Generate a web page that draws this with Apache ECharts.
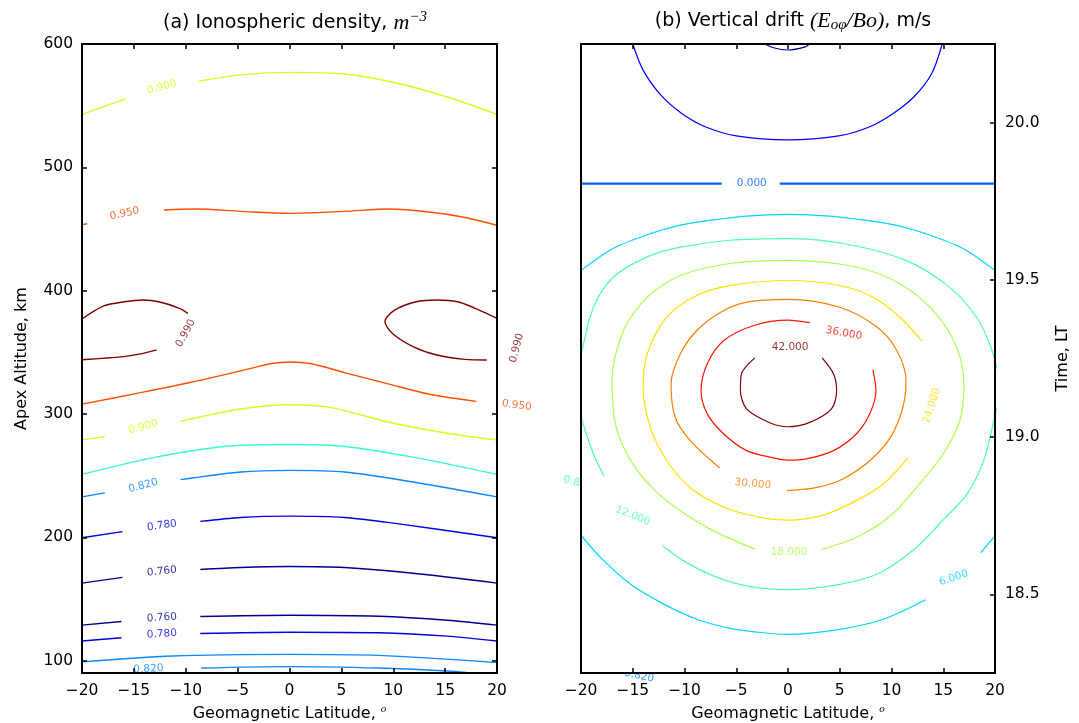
<!DOCTYPE html>
<html>
<head>
<meta charset="utf-8">
<script src="https://cdn.jsdelivr.net/npm/echarts@6/dist/echarts.min.js"></script>
<style>
  html, body { margin: 0; padding: 0; background: #fff; }
  #chart { width: 1079px; height: 723px; }
</style>
</head>
<body>
<div id="chart"></div>
<script>
// ---- axis ticks
const altTicks = [100, 200, 300, 400, 500, 600];
const timeTicks = [18.5, 19.0, 19.5, 20.0];

// ---- (a) density contours, pieces of [latitude, altitude km]
const dens090Top = [
  [[-20, 543], [-15.8, 555.5]],
  [[-8.7, 570], [-4.7, 575], [0, 577], [5.3, 575.7], [10.2, 568.6], [15.2, 557], [20, 543]]
];
const dens095Top = [
  [[-20, 453.5], [-19.5, 454.3]],
  [[-12.1, 465.4], [-9, 466.2], [-4.7, 464.3], [0, 462.7], [5.3, 464.3], [9.6, 466.2], [13.5, 463.8], [16.8, 459.5], [20, 453]]
];
const dens099Left = [
  [[-20, 377], [-17.9, 387.6], [-15.9, 391], [-14.1, 392.4], [-12.6, 391], [-10.6, 385.7], [-9.8, 381.6]],
  [[-20, 344], [-16, 346.5], [-14.5, 348.5], [-12.8, 352]]
];
const dens099Right = [
  [[20, 377.6], [17.9, 385.7], [16.2, 391], [14.2, 392.4], [12.2, 391], [10.1, 384], [9.2, 374.9],
   [9.9, 365.4], [11.9, 354.6], [14.2, 347.8], [16.9, 344.3], [19, 343.8]]
];
const dens095Low = [
  [[-20, 308], [-14.6, 316.9], [-9.6, 325.5], [-4.7, 335], [-1.7, 340.9], [0, 342.2], [2, 340.9],
   [5.3, 333.6], [9.6, 324.2], [13.5, 316], [18, 310.2]]
];
const dens090Low = [
  [[-20, 279], [-17.8, 281.7]],
  [[-10.5, 294], [-4.7, 304], [0, 307.5], [3.9, 305.4], [9.6, 293.3], [15.2, 284.4], [20, 279]]
];
const dens086 = [
  [[-20, 251], [-12.9, 265], [-6.3, 273.7], [0, 275.3], [5.3, 273.7], [11.9, 265], [20, 251]]
];
const dens082Top = [
  [[-20, 232.8], [-17.8, 236]],
  [[-10.5, 246.8], [-4.7, 253], [0, 254.3], [5.3, 253], [11.9, 244.9], [20, 232.8]]
];
const dens078Top = [
  [[-20, 199.7], [-16.1, 204.6]],
  [[-8.6, 212.9], [-4.7, 216.1], [0, 217.2], [5.3, 216.1], [10.2, 211.3], [20, 199.7]]
];
const dens076Top = [
  [[-20, 162.9], [-16.1, 167.5]],
  [[-8.6, 173.9], [-4.7, 175.5], [0, 176.3], [5.3, 175.5], [11.9, 170.9], [20, 162.9]]
];
const dens076Low = [
  [[-20, 128.8], [-16.2, 131.7]],
  [[-8.6, 135.8], [0, 136.8], [8.6, 136], [15.2, 132.8], [20, 128.8]]
];
const dens078Low = [
  [[-20, 115.9], [-16.2, 118.6]],
  [[-8.6, 122], [0, 123.1], [8.6, 122.6], [15.2, 119.9], [20, 115.9]]
];
const dens082Low = [
  [[-20, 99], [-11.3, 103.8], [0, 105.1], [8.6, 104.3], [20, 98.4]]
];
const dens082Bottom = [
  [[-8.5, 94], [0, 95.2], [8.6, 94], [15.2, 91.6], [19, 88.8]]
];

// contour labels (a): [latitude, altitude, text, angle]
const densLabels = [
  [-12.3, 565, '0.900', 15],
  [-15.9, 462.5, '0.950', 12],
  [-10, 365.5, '0.990', 62],
  [21.9, 353.5, '0.990', 75],
  [21.9, 307, '0.950', -8],
  [-14.1, 289.5, '0.900', 15],
  [-14.1, 241.8, '0.820', 15],
  [-12.3, 209.5, '0.780', 8],
  [-12.3, 172.3, '0.760', 6],
  [-12.3, 134.8, '0.760', 4],
  [-12.3, 121.6, '0.780', 4],
  [-13.6, 93.2, '0.820', 3],
  [27.8, 244, '0.860', -15],
  [33.7, 87.6, '0.820', -12]
];

// ---- (b) drift contours, pieces of [latitude, local time h]
const drift_m12 = [
  [[-2.2, 20.25], [-1.4, 20.238], [0, 20.231], [1.6, 20.24], [2.1, 20.25]]
];
const drift_m6 = [
  [[-15, 20.25], [-14, 20.167], [-12.3, 20.088], [-10.3, 20.03], [-8, 19.987], [-5, 19.958], [0, 19.945],
   [4.9, 19.958], [7.9, 19.987], [10.2, 20.03], [12.2, 20.083], [13.9, 20.157], [14.9, 20.25]]
];
const drift_0 = [
  [[-20, 19.806], [-6.4, 19.806]],
  [[-0.8, 19.806], [20, 19.806]]
];
const drift_6 = [
  [[-20, 19.53], [-16.9, 19.6], [-13.3, 19.647], [-10.4, 19.674], [-7.4, 19.69], [-4, 19.703], [0, 19.708],
   [4, 19.703], [7.4, 19.69], [10.4, 19.674], [13.3, 19.647], [16.9, 19.6], [20, 19.53]],
  [[-20, 18.688], [-18.1, 18.617], [-15.2, 18.532], [-12, 18.469], [-8.8, 18.421], [-5.6, 18.392], [-2.4, 18.378],
   [0, 18.373], [5, 18.389], [9.2, 18.421], [13.3, 18.483]],
  [[18.6, 18.632], [20, 18.686]]
];
const drift_12 = [
  [[-20.4, 19.19], [-19.9, 19.275], [-18.8, 19.413], [-16.85, 19.509], [-13.6, 19.573], [-10.4, 19.604], [-5.6, 19.626],
   [0, 19.631], [5.6, 19.614], [11.4, 19.562], [15.6, 19.477], [18.2, 19.382], [19.6, 19.286], [20.4, 19.19]],
  [[20.4, 19.12], [19.9, 19.053], [18.9, 18.925], [17.3, 18.819], [15, 18.737], [12.4, 18.649], [8.9, 18.569],
   [5, 18.532], [0, 18.515], [-4, 18.527], [-7.2, 18.559], [-9.8, 18.601], [-12.1, 18.654]],
  [[-17.8, 18.877], [-18.8, 18.947], [-19.9, 19.053], [-20.4, 19.12]]
];
const drift_18 = [
  [[3.3, 18.644], [6.6, 18.681], [9.9, 18.75], [12.7, 18.851], [15, 18.947], [16.6, 19.053], [17, 19.169],
   [16.3, 19.286], [14, 19.403], [10.8, 19.488], [6.6, 19.541], [0, 19.562], [-5.6, 19.552], [-10.4, 19.514],
   [-13.6, 19.445], [-15.9, 19.339], [-17, 19.18], [-16.6, 19.031], [-15, 18.915], [-12.7, 18.825],
   [-10.4, 18.766], [-7.2, 18.702], [-3.2, 18.644]]
];
const drift_24 = [
  [[11.6, 18.934], [9.2, 18.851], [6.6, 18.798], [3.4, 18.752], [0, 18.736], [-2.7, 18.745], [-6.2, 18.777],
   [-9.45, 18.84], [-11.7, 18.925], [-13.3, 19.031], [-14, 19.159], [-13.6, 19.265], [-11.7, 19.382],
   [-8.8, 19.451], [-5.6, 19.482], [0, 19.498], [5, 19.482], [8.2, 19.445], [10.8, 19.382], [12.9, 19.307]]
];
const drift_30 = [
  [[-0.1, 18.83], [2.8, 18.84], [5.3, 18.867], [7.9, 18.925], [9.9, 18.999], [11.1, 19.095], [11.4, 19.18],
   [10.5, 19.276], [8.6, 19.35], [5, 19.413], [0, 19.438], [-4, 19.429], [-6.5, 19.397], [-8.8, 19.339],
   [-10.4, 19.265], [-11.3, 19.169], [-10.9, 19.063], [-9.45, 18.989], [-6.6, 18.902]]
];
const drift_36 = [
  [[8.2, 19.214], [8.5, 19.148], [7.9, 19.074], [6.6, 19.01], [4.4, 18.957], [1.8, 18.931], [0, 18.927],
   [-1.4, 18.934], [-4, 18.957], [-6.2, 19.01], [-7.8, 19.074], [-8.4, 19.148], [-7.8, 19.233], [-6.2, 19.307],
   [-3.3, 19.355], [0, 19.372], [2.1, 19.364]]
];
const drift_42 = [
  [[3.3, 19.252], [4.4, 19.201], [4.7, 19.148], [4.2, 19.09], [2.1, 19.047], [0, 19.033], [-1.7, 19.045],
   [-4, 19.09], [-4.6, 19.148], [-4.5, 19.201], [-3.2, 19.252]]
];

// contour labels (b): [latitude, time, text, angle]
const driftLabels = [
  [-3.5, 19.806, '0.000', 0],
  [16.0, 18.552, '6.000', 18],
  [-15.0, 18.75, '12.000', -22],
  [0.1, 18.635, '18.000', 0],
  [13.9, 19.1, '24.000', 72],
  [-3.4, 18.851, '30.000', -5],
  [5.4, 19.33, '36.000', -10],
  [0.2, 19.287, '42.000', 0]
];

const FONT = 'DejaVu Sans';
const densColor = {
  '0.760': '#000088', '0.780': '#0000e2', '0.820': '#0a88ff', '0.860': '#33ffcc',
  '0.900': '#d2ff1f', '0.950': '#ff4f00', '0.990': '#800000'
};
const driftColor = {
  '-12': '#000080', '-6': '#0000fe', '0.000': '#0063ff', '6.000': '#00d4ff', '12.000': '#4dffaa',
  '18.000': '#a9ff4d', '24.000': '#ffe000', '30.000': '#ff7d00', '36.000': '#ff1400', '42.000': '#800000'
};

const densSets = [
  [dens090Top, '0.900'], [dens095Top, '0.950'], [dens099Left, '0.990'], [dens099Right, '0.990'],
  [dens095Low, '0.950'], [dens090Low, '0.900'], [dens086, '0.860'], [dens082Top, '0.820'],
  [dens078Top, '0.780'], [dens076Top, '0.760'], [dens076Low, '0.760'], [dens078Low, '0.780'],
  [dens082Low, '0.820'], [dens082Bottom, '0.820']
];
const driftSets = [
  [drift_m12, '-12'], [drift_m6, '-6'], [drift_0, '0.000'], [drift_6, '6.000'], [drift_12, '12.000'],
  [drift_18, '18.000'], [drift_24, '24.000'], [drift_30, '30.000'], [drift_36, '36.000'], [drift_42, '42.000']
];

function lines(pieces, color, width, idx) {
  return pieces.map(p => ({
    type: 'line', xAxisIndex: idx, yAxisIndex: idx, data: p,
    showSymbol: false, smooth: 0.3, silent: true, animation: false, z: 3,
    lineStyle: { color: color, width: width }
  }));
}
function labels(list, colors, idx, z) {
  return list.map(([x, y, txt, rot]) => ({
    type: 'scatter', xAxisIndex: idx, yAxisIndex: idx, data: [[x, y]],
    symbolSize: 1, itemStyle: { color: 'rgba(0,0,0,0)' }, clip: false, silent: true, animation: false, z: z,
    label: { show: true, position: 'inside', formatter: txt, rotate: rot, color: colors[txt], fontSize: 10.5, fontFamily: FONT }
  }));
}

let series = [];
densSets.forEach(([p, lv]) => { series = series.concat(lines(p, densColor[lv], 1.4, 0)); });
driftSets.forEach(([p, lv]) => { series = series.concat(lines(p, driftColor[lv], lv === '0.000' ? 2.2 : 1.2, 2)); });
series = series.concat(labels(densLabels.slice(0, 12), densColor, 0, 4));
series = series.concat(labels(densLabels.slice(12), densColor, 0, 0));
series = series.concat(labels(driftLabels, driftColor, 2, 4));

const minus = v => (v < 0 ? '\u2212' + (-v) : String(v));
const lineStyle = { color: '#000', width: 2 };
const tickStyle = { color: '#000', width: 1.5 };
const tickFont = { color: '#000', fontSize: 15.5, fontFamily: FONT };
const nameFont = { color: '#000', fontSize: 16, fontFamily: FONT,
  rich: { o: { fontFamily: 'Liberation Serif', fontStyle: 'italic', fontSize: 11, padding: [0, 0, 9, 0] } } };

function xAx(grid, pos, named) {
  return {
    type: 'value', gridIndex: grid, position: pos, min: -20, max: 20, interval: 5, z: 5,
    axisLine: { show: true, onZero: false, lineStyle: lineStyle },
    axisTick: { show: true, inside: true, length: 5, lineStyle: tickStyle },
    axisLabel: Object.assign({ show: named, margin: 10, formatter: minus }, tickFont),
    splitLine: { show: false },
    name: named ? 'Geomagnetic Latitude, {o|o}' : '', nameLocation: 'middle', nameGap: 30, nameTextStyle: nameFont
  };
}

const titleRich = {
  m: { fontFamily: 'Liberation Serif', fontStyle: 'italic', fontSize: 22 },
  s: { fontFamily: 'Liberation Serif', fontStyle: 'italic', fontSize: 15, padding: [0, 0, 11, 0] },
  b: { fontFamily: 'Liberation Serif', fontStyle: 'italic', fontSize: 15, padding: [8, 0, 0, 0] }
};

const option = {
  backgroundColor: '#fff',
  animation: false,
  title: [
    {
      text: '(a) Ionospheric density, {m|m}{s|\u22123}', left: 290, top: 5, textAlign: 'center',
      textStyle: { color: '#000', fontSize: 19, fontWeight: 'normal', fontFamily: FONT, rich: titleRich }
    },
    {
      text: '(b) Vertical drift {m|(E}{b|o\u03c6}{m|/Bo)}, m/s', left: 788, top: 5, textAlign: 'center',
      textStyle: { color: '#000', fontSize: 19, fontWeight: 'normal', fontFamily: FONT, rich: titleRich }
    }
  ],
  grid: [
    { left: 82, top: 44, width: 415, height: 629, outerBoundsMode: 'none', containLabel: false },
    { left: 581, top: 44, width: 414, height: 629, outerBoundsMode: 'none', containLabel: false,
      show: true, backgroundColor: '#fff', borderWidth: 0, z: 1 }
  ],
  xAxis: [xAx(0, 'bottom', true), xAx(0, 'top', false), xAx(1, 'bottom', true), xAx(1, 'top', false)],
  yAxis: [
    {
      type: 'value', gridIndex: 0, position: 'left', min: 90, max: 600, z: 5,
      axisLine: { show: true, onZero: false, lineStyle: lineStyle },
      axisTick: { show: true, inside: true, length: 5, lineStyle: tickStyle, customValues: altTicks },
      axisLabel: Object.assign({ margin: 9, customValues: altTicks }, tickFont),
      splitLine: { show: false },
      name: 'Apex Altitude, km', nameLocation: 'middle', nameGap: 52, nameRotate: 90, nameTextStyle: nameFont
    },
    {
      type: 'value', gridIndex: 0, position: 'right', min: 90, max: 600, z: 5,
      axisLine: { show: true, onZero: false, lineStyle: lineStyle },
      axisTick: { show: true, inside: true, length: 5, lineStyle: tickStyle, customValues: altTicks },
      axisLabel: { show: false }, splitLine: { show: false }
    },
    {
      type: 'value', gridIndex: 1, position: 'right', min: 18.25, max: 20.25, z: 5,
      axisLine: { show: true, onZero: false, lineStyle: lineStyle },
      axisTick: { show: true, inside: true, length: 5, lineStyle: tickStyle, customValues: timeTicks },
      axisLabel: Object.assign({ margin: 10, customValues: timeTicks, formatter: v => v.toFixed(1) }, tickFont),
      splitLine: { show: false },
      name: 'Time, LT', nameLocation: 'middle', nameGap: 60, nameRotate: 90, nameTextStyle: nameFont
    },
    {
      type: 'value', gridIndex: 1, position: 'left', min: 18.25, max: 20.25, z: 5,
      axisLine: { show: true, onZero: false, lineStyle: lineStyle },
      axisTick: { show: false }, axisLabel: { show: false }, splitLine: { show: false }
    }
  ],
  series: series
};

const chart = echarts.init(document.getElementById('chart'), null, { renderer: 'canvas' });
chart.setOption(option);
</script>
</body>
</html>
